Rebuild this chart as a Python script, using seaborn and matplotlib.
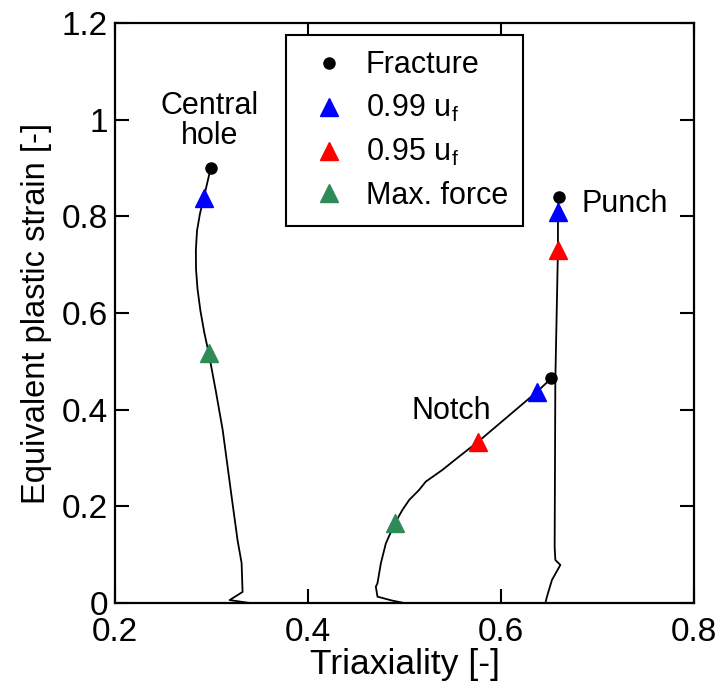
import matplotlib
matplotlib.use("Agg")
import matplotlib.pyplot as plt
import seaborn as sns

# curves (triaxiality, equivalent plastic strain)
hole_x = [0.3395, 0.3188, 0.3322, 0.3312, 0.327, 0.3209, 0.3116, 0.3043, 0.2971,
          0.2925, 0.2885, 0.2855, 0.2840, 0.2838, 0.2850, 0.2880, 0.292, 0.2992]
hole_y = [0.0, 0.006, 0.0228, 0.0828, 0.130, 0.2193, 0.3579, 0.4407, 0.5173,
          0.5600, 0.6050, 0.6500, 0.6900, 0.7300, 0.7700, 0.8050, 0.838, 0.900]

notch_x = [0.4996, 0.4875, 0.472, 0.4703, 0.472, 0.4755, 0.4807, 0.490, 0.4978,
           0.5048, 0.5151, 0.522, 0.5392, 0.5564, 0.5763, 0.6373, 0.6522]
notch_y = [0.0, 0.0048, 0.013, 0.0337, 0.0408, 0.0821, 0.1235, 0.1649, 0.1924,
           0.213, 0.2338, 0.251, 0.2752, 0.3027, 0.3337, 0.437, 0.465]

punch_x = [0.646, 0.6476, 0.6528, 0.6615, 0.6563, 0.6556, 0.6563, 0.659, 0.659, 0.6597]
punch_y = [0.0, 0.013, 0.0476, 0.0786, 0.089, 0.1165, 0.4614, 0.730, 0.8097, 0.8394]

# marked states
fracture_x = [0.2992, 0.6522, 0.6597]
fracture_y = [0.900, 0.465, 0.8394]
u99_x = [0.292, 0.6373, 0.659]
u99_y = [0.838, 0.437, 0.8097]
u95_x = [0.5763, 0.659]
u95_y = [0.3337, 0.730]
maxf_x = [0.2971, 0.490]
maxf_y = [0.5173, 0.1649]

xticks = [0.2, 0.4, 0.6, 0.8]
yticks = [0, 0.2, 0.4, 0.6, 0.8, 1.0, 1.2]
yticklabels = ["0", "0.2", "0.4", "0.6", "0.8", "1", "1.2"]

sns.set_style("ticks")
plt.rcParams["font.family"] = ["Liberation Sans", "DejaVu Sans"]
plt.rcParams["mathtext.fontset"] = "custom"
plt.rcParams["mathtext.rm"] = "Liberation Sans"
plt.rcParams["text.color"] = "black"
plt.rcParams["axes.labelcolor"] = "black"
plt.rcParams["axes.edgecolor"] = "black"
plt.rcParams["xtick.color"] = "black"
plt.rcParams["ytick.color"] = "black"

fig = plt.figure(figsize=(7.2, 6.91), dpi=100)
ax = fig.add_axes([0.1597, 0.1274, 0.8042, 0.8393])

for cx, cy in [(hole_x, hole_y), (notch_x, notch_y), (punch_x, punch_y)]:
    sns.lineplot(x=cx, y=cy, sort=False, estimator=None, color="black",
                 linewidth=1.3, ax=ax, zorder=2)

ax.plot(fracture_x, fracture_y, "o", color="black", markersize=8,
        linestyle="none", label="Fracture", zorder=3)
ax.plot(u99_x, u99_y, "^", color="#0000ff", markersize=13,
        linestyle="none", label="0.99 u$_\\mathrm{f}$", zorder=3)
ax.plot(u95_x, u95_y, "^", color="#ff0000", markersize=13,
        linestyle="none", label="0.95 u$_\\mathrm{f}$", zorder=3)
ax.plot(maxf_x, maxf_y, "^", color="#2e8b57", markersize=13,
        linestyle="none", label="Max. force", zorder=3)

ax.text(0.298, 0.997, "Central\nhole", ha="center", va="center",
        fontsize=22, linespacing=1.0)
ax.text(0.548, 0.397, "Notch", ha="center", va="center", fontsize=22)
ax.text(0.728, 0.8256, "Punch", ha="center", va="center", fontsize=22)

ax.set_xlim(0.2, 0.8)
ax.set_ylim(0, 1.2)
ax.set_xticks(xticks)
ax.set_xticklabels([f"{t:g}" for t in xticks])
ax.set_yticks(yticks)
ax.set_yticklabels(yticklabels)
ax.tick_params(direction="in", length=10, width=1.5, top=True, right=True,
               labelsize=24, pad=5)
ax.tick_params(axis="x", pad=10)
for s in ax.spines.values():
    s.set_linewidth(1.6)

ax.set_xlabel("Triaxiality [-]", fontsize=25.5, labelpad=0)
ax.set_ylabel("Equivalent plastic strain [-]", fontsize=23.5, labelpad=7)

leg = ax.legend(loc="upper left", bbox_to_anchor=(0.296, 0.979), borderaxespad=0,
                numpoints=1, fontsize=22, frameon=True, fancybox=False,
                handlelength=1.8, handletextpad=0.3, labelspacing=0.42,
                borderpad=0.5)
leg.get_frame().set_edgecolor("black")
leg.get_frame().set_linewidth(1.5)
leg.get_frame().set_alpha(1)

fig.savefig("out.png", dpi=100)
